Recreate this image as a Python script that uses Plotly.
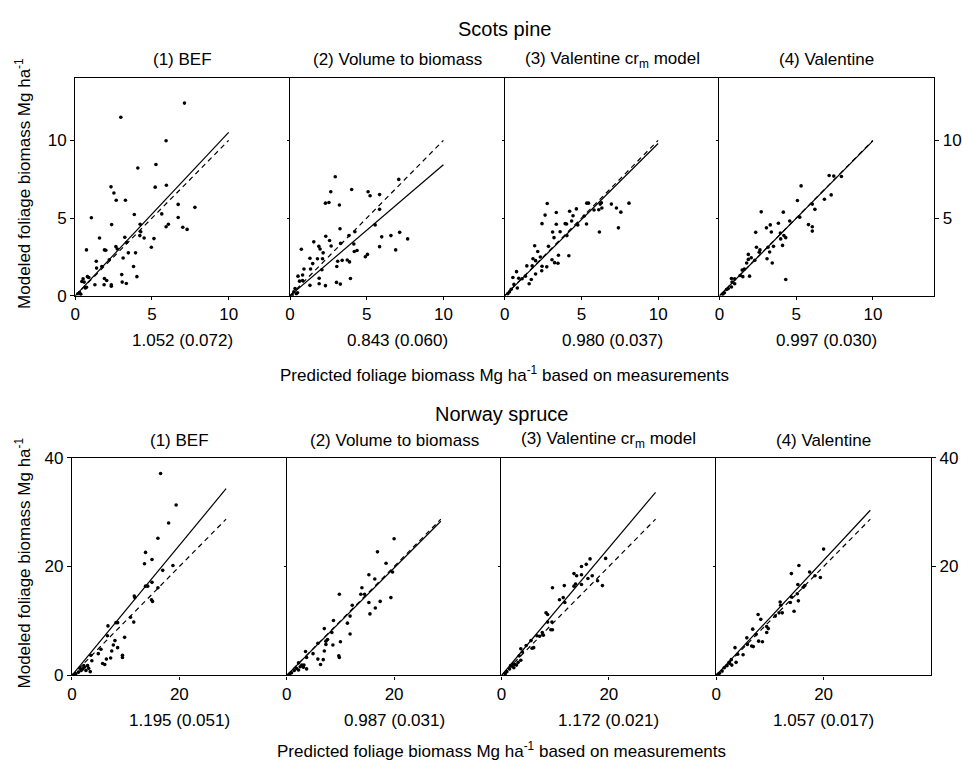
import plotly.graph_objects as go

# ---------------- data ----------------
methods = ["(1) BEF", "(2) Volume to biomass", "(3) Valentine cr<sub>m</sub> model", "(4) Valentine"]

pine_slopes = [1.052, 0.843, 0.980, 0.997]
pine_se = [0.072, 0.060, 0.037, 0.030]
spruce_slopes = [1.195, 0.987, 1.172, 1.057]
spruce_se = [0.051, 0.031, 0.021, 0.017]

pine_bef_x = [7.12, 2.97, 5.92, 4.08, 5.26, 2.33, 2.52, 2.67, 3.27, 5.21, 5.94, 1.05, 6.71, 7.8, 5.64, 3.85,
              2.37, 4.23, 6.07, 5.92, 6.71, 7.01, 7.29, 4.27, 4.21, 4.49, 5.13, 1.58, 3.23, 3.35, 2.74, 2.65,
              0.73, 1.9, 1.99, 4.96, 3.46, 3.93, 3.12, 2.22, 1.37, 1.73, 3.8, 1.39, 4.02, 3.03, 1.9, 2.05,
              3.06, 3.33, 1.88, 2.35, 2.35, 1.28, 0.51, 0.88, 0.79, 0.43, 0.66, 0.28, 0.17, 0.36, 0.58, 0.73]
pine_bef_y = [12.4, 11.49, 9.98, 8.22, 8.45, 7.01, 6.61, 6.15, 6.15, 6.99, 7.11, 5.02, 5.88, 5.69, 5.27, 5.23,
              4.58, 4.6, 4.6, 4.44, 5.04, 4.41, 4.27, 4.12, 3.87, 3.72, 3.68, 3.72, 3.77, 3.43, 3.01, 3.16,
              2.95, 2.95, 2.93, 3.12, 2.76, 2.76, 2.43, 2.32, 2.22, 1.88, 1.88, 1.78, 1.23, 1.36, 1.11, 0.98,
              0.88, 0.79, 0.71, 0.71, 0.61, 0.71, 1.09, 1.17, 1.23, 0.92, 0.5, 0.21, 0.13, 0.1, 0.88, 0.54]

pine_vol_x = [2.95, 2.66, 4.02, 2.31, 2.54, 3.22, 5.09, 5.22, 5.84, 5.84, 7.09, 5.55, 5.98, 6.58, 7.15, 7.67,
              6.89, 5.84, 3.26, 4.23, 3.84, 4.16, 4.19, 4.37, 4.91, 5.05, 3.3, 2.33, 2.58, 2.68, 2.16, 1.88,
              1.96, 1.55, 0.74, 1.79, 2.12, 1.3, 3.05, 3.11, 3.4, 3.73, 3.88, 3.94, 2.08, 1.48, 1.34, 1.9,
              1.9, 2.31, 3.03, 3.28, 1.3, 0.91, 0.82, 0.52, 0.62, 0.82, 0.33, 0.25, 0.41, 0.49, 0.14]
pine_vol_y = [7.66, 6.69, 6.84, 5.96, 6.0, 5.84, 6.69, 6.44, 6.51, 5.56, 7.49, 4.56, 3.79, 3.87, 4.08, 3.66,
              2.95, 3.16, 4.31, 4.12, 3.87, 3.33, 2.85, 2.91, 2.51, 2.66, 3.37, 3.83, 3.56, 3.2, 2.76, 3.18,
              3.01, 3.47, 2.99, 2.38, 2.38, 2.41, 1.88, 2.22, 2.28, 2.3, 2.18, 1.11, 1.67, 2.07, 1.72, 1.13,
              0.77, 0.65, 0.86, 0.75, 0.67, 1.72, 1.34, 1.26, 0.94, 0.98, 0.46, 0.25, 0.13, 0.19, 0.04]

pine_vcr_x = [2.77, 2.63, 3.36, 2.43, 3.36, 3.94, 4.03, 4.23, 4.45, 4.67, 4.36, 4.76, 5.35, 5.46, 5.18, 5.33,
              5.82, 6.22, 6.3, 6.13, 6.33, 6.95, 7.28, 7.57, 8.1, 6.17, 7.41, 3.12, 3.61, 3.21, 4.05, 2.85,
              1.95, 2.15, 2.32, 1.84, 2.01, 1.79, 2.43, 2.74, 3.08, 3.25, 3.47, 3.5, 4.18, 2.41, 2.01, 1.44,
              1.35, 1.59, 0.77, 0.91, 0.53, 0.82, 0.6, 0.42, 0.31, 0.2, 1.73, 1.13]
pine_vcr_y = [5.94, 5.19, 5.36, 4.64, 4.6, 4.64, 4.62, 5.44, 5.15, 5.59, 4.81, 4.56, 5.96, 5.96, 5.13, 4.62,
              5.52, 5.9, 5.98, 5.54, 5.65, 5.9, 5.65, 5.38, 5.96, 4.1, 4.37, 4.1, 4.12, 3.74, 3.87, 3.18,
              3.22, 2.85, 2.49, 2.38, 2.26, 1.92, 1.9, 1.86, 2.32, 2.13, 2.09, 2.61, 2.57, 1.61, 1.4, 1.92,
              1.26, 0.77, 1.55, 1.13, 1.17, 0.5, 0.73, 0.42, 0.25, 0.13, 1.05, 1.09]

pine_val_x = [5.32, 7.15, 7.45, 7.95, 7.28, 6.84, 5.08, 6.05, 6.22, 5.23, 2.72, 4.16, 4.58, 3.84, 3.06, 3.31,
              3.38, 2.36, 3.97, 4.2, 4.32, 3.99, 4.11, 3.52, 3.16, 2.41, 2.64, 2.59, 3.1, 3.44, 5.8, 6.05,
              6.05, 4.32, 1.88, 2.07, 1.88, 1.77, 2.3, 1.96, 1.48, 1.62, 1.35, 0.99, 0.78, 0.82, 0.78, 0.57,
              0.46, 0.32, 0.21, 0.99, 1.52, 3.27]
pine_val_y = [7.07, 7.74, 7.7, 7.68, 6.49, 6.21, 6.13, 5.9, 5.56, 5.06, 5.4, 5.38, 4.81, 4.67, 4.37, 4.56,
              4.1, 4.08, 4.04, 3.87, 3.74, 3.66, 3.24, 3.18, 3.12, 3.12, 2.95, 2.8, 2.38, 2.11, 4.58, 4.44,
              4.16, 1.05, 2.66, 2.45, 2.34, 2.11, 2.28, 1.26, 1.65, 1.72, 1.3, 1.09, 1.11, 0.88, 0.56, 0.46,
              0.4, 0.19, 0.1, 0.77, 1.23, 2.82]

spruce_bef_x = [16.5, 19.4, 18.0, 16.0, 13.7, 14.9, 13.5, 18.8, 16.9, 14.9, 13.7, 14.1, 16.0, 14.8, 15.0, 11.6,
                11.7, 10.9, 11.5, 8.2, 8.5, 6.7, 6.6, 9.8, 8.0, 7.7, 8.5, 7.4, 5.4, 4.9, 7.2, 6.4,
                5.7, 6.1, 9.4, 9.4, 3.5, 3.7, 2.9, 2.3, 2.0, 1.7, 2.6, 3.4, 1.2, 0.7, 0.3, 1.5, 2.2, 3.1]
spruce_bef_y = [37.1, 31.3, 28.0, 25.2, 22.6, 21.3, 20.5, 20.2, 19.3, 17.1, 16.4, 16.4, 16.1, 13.9, 13.6, 14.6,
                14.3, 10.7, 9.8, 9.7, 9.7, 9.1, 7.3, 7.0, 6.4, 5.6, 5.1, 4.5, 4.8, 4.0, 3.2, 3.0,
                2.2, 2.0, 3.7, 3.3, 3.7, 2.7, 1.8, 1.5, 1.2, 0.9, 0.9, 0.7, 0.6, 0.3, 0.1, 1.3, 1.8, 1.3]

spruce_vol_x = [20.0, 16.9, 18.5, 15.3, 16.4, 19.7, 14.0, 13.8, 14.5, 9.8, 15.3, 17.4, 19.4, 15.5, 16.5, 12.2,
                11.8, 11.3, 8.7, 11.8, 7.0, 8.4, 7.6, 7.3, 8.6, 10.0, 9.7, 9.8, 7.0, 7.3, 5.8, 5.8,
                6.8, 6.3, 3.5, 3.7, 4.9, 2.2, 2.8, 3.2, 3.7, 1.8, 1.4, 2.2, 0.9, 0.5, 2.5, 3.1]
spruce_vol_y = [25.1, 22.7, 20.6, 18.5, 17.7, 19.0, 16.1, 14.9, 14.9, 14.9, 13.4, 13.6, 14.3, 11.3, 12.4, 12.9,
                10.9, 9.6, 10.1, 7.6, 8.6, 7.9, 6.6, 5.7, 5.6, 6.2, 3.6, 3.3, 4.5, 6.3, 5.9, 3.0,
                2.9, 2.0, 4.4, 3.3, 4.0, 2.3, 1.9, 1.9, 1.2, 1.3, 0.9, 1.0, 0.5, 0.2, 1.6, 1.5]

spruce_vcr_x = [19.4, 16.5, 15.8, 14.9, 13.5, 14.0, 14.9, 16.9, 16.1, 13.5, 13.8, 14.9, 17.9, 18.8, 9.5, 11.7,
                11.5, 10.8, 11.8, 8.3, 8.6, 8.6, 9.4, 9.2, 9.5, 7.6, 7.8, 7.1, 6.6, 5.5, 6.0, 5.7,
                4.6, 3.6, 3.3, 3.6, 3.1, 2.5, 2.0, 2.2, 2.8, 1.5, 1.0, 0.7, 2.3, 1.7, 3.9]
spruce_vcr_y = [21.5, 21.4, 20.4, 20.0, 18.7, 18.3, 18.5, 18.3, 17.8, 16.4, 16.8, 16.7, 17.4, 16.5, 16.1, 16.5,
                14.3, 13.9, 13.4, 11.5, 11.2, 9.8, 9.8, 8.4, 8.4, 7.9, 7.4, 7.2, 7.3, 6.4, 5.1, 5.0,
                5.5, 4.9, 3.6, 2.8, 2.4, 2.0, 1.7, 2.1, 1.9, 1.2, 0.7, 0.3, 1.4, 1.8, 4.3]

spruce_val_x = [20.0, 15.4, 14.0, 17.4, 18.4, 19.4, 15.2, 16.5, 16.2, 15.1, 14.0, 11.9, 12.0, 13.8, 15.3, 14.5,
                11.7, 11.0, 12.3, 7.8, 8.3, 9.4, 9.7, 9.4, 6.8, 7.4, 7.9, 8.6, 5.7, 6.6, 6.9, 5.8,
                5.0, 3.5, 4.0, 2.8, 3.7, 2.5, 2.0, 2.9, 1.5, 1.1, 0.6, 0.3, 2.4]
spruce_val_y = [23.2, 20.2, 18.7, 19.0, 18.3, 18.0, 16.7, 16.5, 16.2, 15.0, 14.4, 13.5, 12.9, 13.4, 13.7, 11.8,
                11.5, 10.9, 11.5, 11.2, 10.3, 9.0, 8.6, 7.9, 8.5, 7.5, 6.3, 6.2, 6.9, 5.4, 5.3, 5.7,
                3.8, 5.1, 3.9, 2.9, 2.4, 2.2, 1.8, 1.9, 1.4, 0.8, 0.4, 0.2, 2.4]

pine_x = [pine_bef_x, pine_vol_x, pine_vcr_x, pine_val_x]
pine_y = [pine_bef_y, pine_vol_y, pine_vcr_y, pine_val_y]
spruce_x = [spruce_bef_x, spruce_vol_x, spruce_vcr_x, spruce_val_x]
spruce_y = [spruce_bef_y, spruce_vol_y, spruce_vcr_y, spruce_val_y]

pine_line_end = 10.0
spruce_line_end = 28.7
pine_range = [0, 14]
spruce_range = [0, 40]
pine_ticks = [0, 5, 10]
spruce_ticks = [0, 20, 40]

# ---------------- layout helpers ----------------
W, H = 962, 770
FONT = "Liberation Sans, Arial, Helvetica, sans-serif"
PANEL_W = 217


def fx(px):
    return px / W


def fy(py):
    return 1 - py / H


rows = [
    dict(left=71, top=71, bottom=294, xs=pine_x, ys=pine_y, slopes=pine_slopes, se=pine_se,
         end=pine_line_end, rng=pine_range, ticks=pine_ticks, xticks=[0, 5, 10],
         title="Scots pine", title_y=21, sub_y=52, slope_y=340, xtitle_y=374),
    dict(left=67.7, top=460, bottom=683.3, xs=spruce_x, ys=spruce_y, slopes=spruce_slopes, se=spruce_se,
         end=spruce_line_end, rng=spruce_range, ticks=spruce_ticks, xticks=[0, 20],
         title="Norway spruce", title_y=415, sub_y=442, slope_y=729, xtitle_y=760),
]

fig = go.Figure()
layout = {}
annotations = []
axis_line = dict(showline=True, linecolor="black", linewidth=1.2, showgrid=False, zeroline=False)
tick_font = dict(size=17, color="black", family=FONT)

n = 0
for r, row in enumerate(rows):
    ydom = [fy(row["bottom"]), fy(row["top"])]
    inner_ticks = [t for t in row["ticks"] if 0 < t < row["rng"][1]] or row["ticks"][1:]
    if row["rng"][1] == 14:
        inner_ticks = [5, 10]
    for k in range(4):
        n += 1
        xa = "x" if n == 1 else f"x{n}"
        ya = "y" if n == 1 else f"y{n}"
        x0 = row["left"] + k * PANEL_W
        xdom = [fx(x0), fx(x0 + PANEL_W)]
        layout["xaxis" if n == 1 else f"xaxis{n}"] = dict(
            domain=xdom, anchor=ya, range=row["rng"], mirror=True,
            tickvals=row["xticks"], ticks="outside", ticklen=3, tickcolor="black",
            tickfont=tick_font, **axis_line)
        first = k == 0
        ycfg = dict(domain=ydom, anchor=xa, range=row["rng"], ticks="outside", tickcolor="black",
                    tickfont=tick_font, **axis_line)
        if first:
            ycfg.update(tickvals=row["ticks"], ticklen=4, showticklabels=True)
        else:
            ycfg.update(tickvals=inner_ticks, ticklen=2, showticklabels=False)
        layout["yaxis" if n == 1 else f"yaxis{n}"] = ycfg

        # scatter of modelled vs predicted values
        fig.add_trace(go.Scatter(
            x=row["xs"][k], y=row["ys"][k], mode="markers", xaxis=xa, yaxis=ya,
            marker=dict(size=3.6, color="black"), showlegend=False, hoverinfo="skip"))
        # fitted regression line through the origin
        s = row["slopes"][k]
        fig.add_trace(go.Scatter(
            x=[0, row["end"]], y=[0, s * row["end"]], mode="lines", xaxis=xa, yaxis=ya,
            line=dict(color="black", width=1.2), showlegend=False, hoverinfo="skip"))
        # 1:1 reference line
        fig.add_trace(go.Scatter(
            x=[0, row["end"]], y=[0, row["end"]], mode="lines", xaxis=xa, yaxis=ya,
            line=dict(color="black", width=1.2, dash="5px,4px"), showlegend=False, hoverinfo="skip"))

        cx = fx(x0 + PANEL_W / 2)
        annotations.append(dict(text=methods[k], x=cx, y=fy(row["sub_y"]), xref="paper", yref="paper",
                                showarrow=False, xanchor="center", yanchor="middle",
                                font=dict(size=17, family=FONT, color="black")))
        annotations.append(dict(text=f"{s:.3f} ({row['se'][k]:.3f})", x=cx, y=fy(row["slope_y"]),
                                xref="paper", yref="paper", showarrow=False,
                                xanchor="center", yanchor="middle",
                                font=dict(size=17, family=FONT, color="black")))

    # right-hand axis on the last panel of the row
    n_right = 8 + r + 1
    last = 4 * (r + 1)
    layout[f"yaxis{n_right}"] = dict(
        overlaying=f"y{last}", side="right", anchor=f"x{last}", range=row["rng"],
        tickvals=row["ticks"][1:], ticks="outside", ticklen=4, tickcolor="black",
        tickfont=tick_font, **axis_line)
    fig.add_trace(go.Scatter(x=[None], y=[None], xaxis=f"x{last}", yaxis=f"y{n_right}",
                             showlegend=False, hoverinfo="skip"))

    mid = (row["left"] + row["left"] + 4 * PANEL_W) / 2
    annotations.append(dict(text=row["title"], x=fx(mid), y=fy(row["title_y"]), xref="paper", yref="paper",
                            showarrow=False, xanchor="center", yanchor="middle",
                            font=dict(size=20, family=FONT, color="black")))
    annotations.append(dict(text="Predicted foliage biomass Mg ha<sup>-1</sup> based on measurements",
                            x=fx(mid), y=fy(row["xtitle_y"]), xref="paper", yref="paper",
                            showarrow=False, xanchor="center", yanchor="middle",
                            font=dict(size=17, family=FONT, color="black")))
    annotations.append(dict(text="Modeled foliage biomass Mg ha<sup>-1</sup>", textangle=-90,
                            x=fx(18), y=fy((row["top"] + row["bottom"]) / 2 - 4), xref="paper", yref="paper",
                            showarrow=False, xanchor="center", yanchor="middle",
                            font=dict(size=17, family=FONT, color="black")))

fig.update_layout(**layout)
fig.update_layout(
    width=W, height=H, margin=dict(l=0, r=0, t=0, b=0),
    paper_bgcolor="white", plot_bgcolor="white",
    annotations=annotations, showlegend=False,
    font=dict(family=FONT, color="black"),
)

fig.write_html("out.html")
